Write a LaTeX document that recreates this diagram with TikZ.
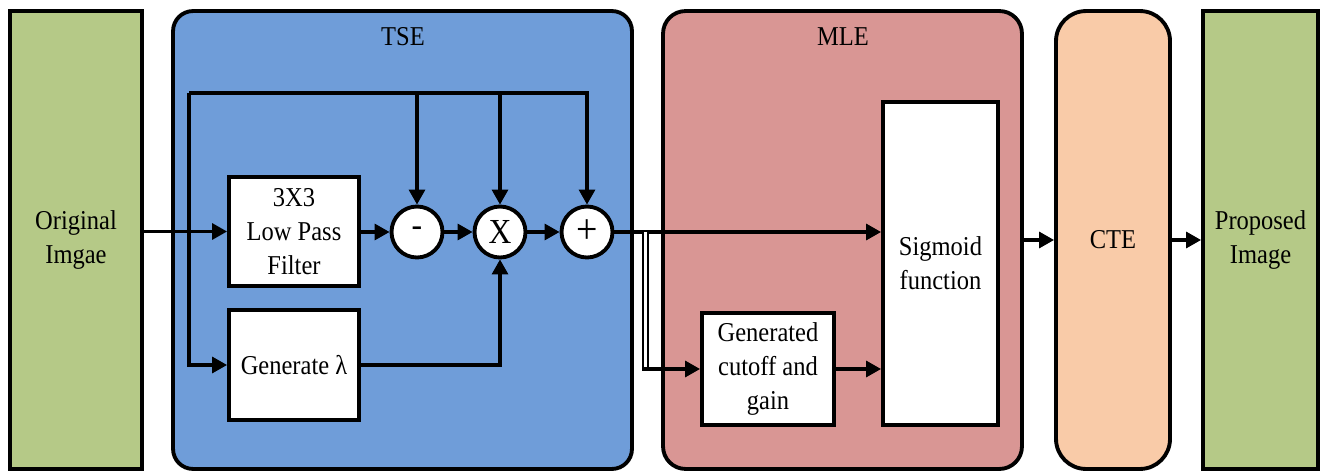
\documentclass[tikz,border=0pt]{standalone}
\usepackage{fontspec}
\setmainfont[FakeStretch=0.9]{Liberation Serif}
\usetikzlibrary{arrows.meta}

\definecolor{imggreen}{RGB}{181,201,135}
\definecolor{tseblue}{RGB}{111,157,217}
\definecolor{mlepink}{RGB}{217,150,148}
\definecolor{ctepeach}{RGB}{249,203,168}

\begin{document}
\begin{tikzpicture}[x=0.02cm, y=-0.02cm, font=\fontsize{15.5}{19.3}\selectfont,
  >={Triangle[length=3mm,width=3.2mm]},
  stage/.style={draw, line width=2.2pt, align=center, inner sep=0pt, minimum height=9.16cm},
  inbox/.style={draw, fill=white, line width=2.2pt, align=center, inner sep=2pt},
  op/.style={draw, circle, fill=white, line width=2.2pt, inner sep=0pt, minimum size=1.02cm},
  conn/.style={line width=1.8pt},
  hollow/.style={line width=1.1pt, double=white, double distance=1.7pt},
  lbl/.style={font=\fontsize{15.5}{19.3}\selectfont}]
  \clip (0,0) rectangle (1324,470);
  % stages
  \node[stage, fill=imggreen, minimum width=2.64cm] (orig) at (76,240) {Original\\Imgae};
  \node[stage, fill=tseblue, rounded corners=0.4cm, minimum width=9.18cm] (tse) at (402.5,240) {};
  \node[stage, fill=mlepink, rounded corners=0.45cm, minimum width=7.18cm] (mle) at (842.5,240) {};
  \node[stage, fill=ctepeach, rounded corners=0.6cm, minimum width=2.28cm] (cte) at (1113,240) {CTE};
  \node[stage, fill=imggreen, minimum width=2.3cm] (prop) at (1260.5,240) {Proposed\\Image};
  \node[lbl] (tselbl) at (403,37) {TSE};
  \node[lbl] (mlelbl) at (843,37) {MLE};
  % TSE blocks
  \node[inbox, minimum width=2.6cm, minimum height=2.18cm] (lpf) at (294,231.5) {3X3\\Low Pass\\Filter};
  \node[inbox, minimum width=2.6cm, minimum height=2.2cm] (genl) at (294,365) {Generate λ};
  \node[op] (minus) at (417,232) {\fontsize{20}{20}\selectfont -};
  \node[op] (times) at (500,232) {\fontsize{20}{20}\selectfont X};
  \node[op] (plus) at (587,232) {\fontsize{24}{24}\selectfont +};
  % MLE blocks
  \node[inbox, minimum width=2.64cm, minimum height=2.24cm] (cut) at (768,369) {Generated\\cutoff and\\gain};
  \node[inbox, minimum width=2.3cm, minimum height=6.46cm] (sig) at (940.5,263.5) {Sigmoid\\function};
  \coordinate (tap) at (189,232);
  \coordinate (busL) at (189,93);
  \coordinate (split) at (645.5,232);
  \coordinate (bend) at (split |- cut.west);
  % connectors
  \draw[conn, ->] (orig.east |- lpf.west) -- (lpf.west);
  \draw[conn] (busL) -- (tap);
  \draw[conn, ->] (busL) |- (genl.west);
  \draw[conn, ->] (busL) -| (plus.north);
  \draw[conn, ->] (minus.north |- busL) -- (minus.north);
  \draw[conn, ->] (times.north |- busL) -- (times.north);
  \draw[conn, ->] (lpf.east |- minus.west) -- (minus.west);
  \draw[conn, ->] (minus.east) -- (times.west);
  \draw[conn, ->] (times.east) -- (plus.west);
  \draw[conn, ->] (genl.east) -| (times.south);
  \draw[conn, ->] (plus.east) -- (plus.east -| sig.west);
  \draw[hollow] (split) -- (bend);
  \draw[conn, ->] ([xshift=-1.9pt]bend) -- (cut.west);
  \draw[conn, ->] (cut.east) -- (cut.east -| sig.west);
  \draw[conn, ->] (mle.east) -- (cte.west);
  \draw[conn, ->] (cte.east) -- (prop.west);
\end{tikzpicture}
\end{document}
